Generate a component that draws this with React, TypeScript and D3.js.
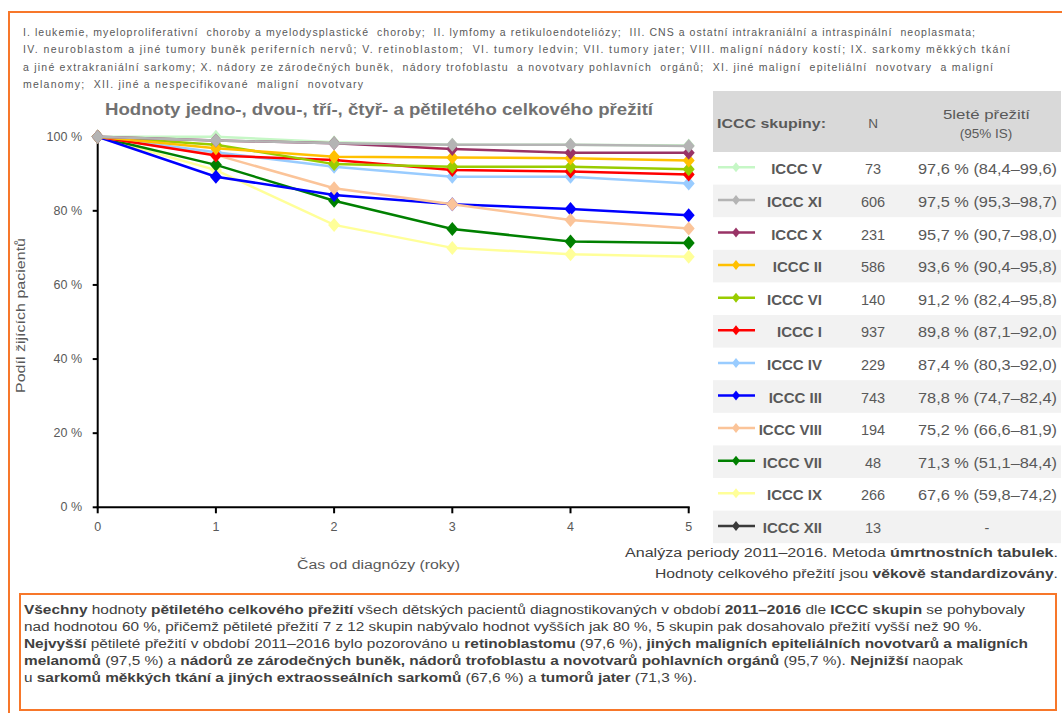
import React from "react";
import * as d3 from "d3";

const years = [0, 1, 2, 3, 4, 5];
const yTicks = [0, 20, 40, 60, 80, 100];

const groupLabels = ["ICCC V", "ICCC XI", "ICCC X", "ICCC II", "ICCC VI", "ICCC I", "ICCC IV", "ICCC III", "ICCC VIII", "ICCC VII", "ICCC IX", "ICCC XII"];
const groupN = ["73", "606", "231", "586", "140", "937", "229", "743", "194", "48", "266", "13"];
const groupSurv = ["97,6 % (84,4–99,6)", "97,5 % (95,3–98,7)", "95,7 % (90,7–98,0)", "93,6 % (90,4–95,8)", "91,2 % (82,4–95,8)", "89,8 % (87,1–92,0)", "87,4 % (80,3–92,0)", "78,8 % (74,7–82,4)", "75,2 % (66,6–81,9)", "71,3 % (51,1–84,4)", "67,6 % (59,8–74,2)", "-"];
const groupColors = ["#c6f7c6", "#b4b4b4", "#993366", "#ffc000", "#99cc00", "#ff0000", "#99ccff", "#0000ff", "#fbc499", "#008000", "#ffff99", "#3a3a3a"];

// survival (%) by year 0..5
const survI = [100, 94.9, 93.7, 91.0, 90.6, 89.8];
const survII = [100, 96.9, 94.6, 94.4, 94.2, 93.6];
const survIII = [100, 89.2, 84.3, 81.8, 80.5, 78.8];
const survIV = [100, 95.8, 91.9, 89.2, 89.2, 87.4];
const survV = [100, 100, 98.5, 97.8, 97.8, 97.6];
const survVI = [100, 97.8, 92.6, 91.9, 91.9, 91.2];
const survVII = [100, 92.4, 82.7, 75.1, 71.7, 71.3];
const survVIII = [100, 95.1, 86.1, 81.8, 77.5, 75.2];
const survIX = [100, 91.0, 76.2, 70.0, 68.3, 67.6];
const survX = [100, 99.0, 98.2, 96.7, 95.7, 95.7];
const survXI = [100, 99.0, 98.2, 97.8, 97.8, 97.5];

// drawing order (last on top)
const drawOrder: [string, number[]][] = [
  ["ICCC IX", survIX],
  ["ICCC VII", survVII],
  ["ICCC III", survIII],
  ["ICCC VIII", survVIII],
  ["ICCC IV", survIV],
  ["ICCC I", survI],
  ["ICCC VI", survVI],
  ["ICCC II", survII],
  ["ICCC V", survV],
  ["ICCC X", survX],
  ["ICCC XI", survXI],
];

const topLines = [
  "I. leukemie, myeloproliferativní  choroby a myelodysplastické  choroby;  II. lymfomy a retikuloendoteliózy;  III. CNS a ostatní intrakraniální a intraspinální  neoplasmata;",
  "IV. neuroblastom a jiné tumory buněk periferních nervů; V. retinoblastom;  VI. tumory ledvin; VII. tumory jater; VIII. maligní nádory kostí; IX. sarkomy měkkých tkání",
  "a jiné extrakraniální sarkomy; X. nádory ze zárodečných buněk,  nádory trofoblastu  a novotvary pohlavních  orgánů;  XI. jiné maligní  epiteliální  novotvary  a maligní",
  "melanomy;  XII. jiné a nespecifikované  maligní  novotvary",
];
const topLineEnds = [975, 1010, 993, 363];

// bottom text: segments [text, bold]
const bottomLines: [string, boolean][][] = [
  [["Všechny", true], [" hodnoty ", false], ["pětiletého celkového přežití", true], [" všech dětských pacientů diagnostikovaných v období ", false], ["2011–2016", true], [" dle ", false], ["ICCC skupin", true], [" se pohybovaly", false]],
  [["nad hodnotou 60 %, přičemž pětileté přežití 7 z 12 skupin nabývalo hodnot vyšších jak 80 %, 5 skupin pak dosahovalo přežití vyšší než 90 %.", false]],
  [["Nejvyšší", true], [" pětileté přežití v období 2011–2016 bylo pozorováno u ", false], ["retinoblastomu", true], [" (97,6 %), ", false], ["jiných maligních epiteliálních novotvarů a maligních", true]],
  [["melanomů", true], [" (97,5 %) a ", false], ["nádorů ze zárodečných buněk, nádorů trofoblastu a novotvarů pohlavních orgánů", true], [" (95,7 %). ", false], ["Nejnižší", true], [" naopak", false]],
  [["u ", false], ["sarkomů měkkých tkání a jiných extraosseálních sarkomů", true], [" (67,6 %) a ", false], ["tumorů jater", true], [" (71,3 %).", false]],
];
const bottomLineEnds = [1025, 982, 1028, 963, 697];

const FONT = "'Liberation Sans', Arial, sans-serif";
const TXT = "#595959";
const ORANGE = "#f7772a";

const diamond = (cx: number, cy: number, w = 6, h = 7) =>
  `M${cx},${cy - h}L${cx + w},${cy}L${cx},${cy + h}L${cx - w},${cy}Z`;

export default function App() {
  const x = d3.scaleLinear().domain([0, 5]).range([97.7, 688.7]);
  const y = d3.scaleLinear().domain([0, 100]).range([507.3, 136.7]);
  const line = d3
    .line<number>()
    .x((_, i) => x(years[i]))
    .y((d) => y(d));
  const colorOf = (name: string) => groupColors[groupLabels.indexOf(name)];

  const rowTop = 152;
  const rowH = 32.6;

  return (
    <svg
      width={1062}
      height={713}
      style={{ position: "absolute", left: 0, top: 0, background: "#fff" }}
      fontFamily={FONT}
    >
      <rect x={0} y={0} width={1062} height={713} fill="#fff" />
      {/* outer orange frame */}
      <path d="M9,713 L9,12 L1062,12" fill="none" stroke={ORANGE} strokeWidth={2} />
      {/* top description */}
      {topLines.map((t, i) => (
        <text
          key={i}
          x={23}
          y={36 + i * 17.3}
          fontSize={10.5}
          fill={TXT}
          textLength={topLineEnds[i] - 23}
          lengthAdjust="spacing"
          style={{ whiteSpace: "pre" }}
        >
          {t}
        </text>
      ))}

      {/* title */}
      <text x={105} y={115} fontSize={16} fill={TXT} fontWeight="bold" opacity={0.85} textLength={548} lengthAdjust="spacingAndGlyphs">
        Hodnoty jedno-, dvou-, tří-, čtyř- a pětiletého celkového přežití
      </text>

      {/* axes */}
      <line x1={x(0)} x2={x(0)} y1={y(100) - 1} y2={y(0) + 1} stroke="#000" strokeWidth={2} />
      <line x1={x(0) - 1} x2={x(5) + 1} y1={y(0)} y2={y(0)} stroke="#000" strokeWidth={2} />
      {yTicks.map((t) => (
        <g key={t}>
          <line x1={x(0) - 5} x2={x(0)} y1={y(t)} y2={y(t)} stroke="#000" strokeWidth={2} />
          <text x={82} y={y(t) + 4} textAnchor="end" fontSize={12.5} fill={TXT}>
            {`${t} %`}
          </text>
        </g>
      ))}
      {years.map((t) => (
        <g key={t}>
          <line x1={x(t)} x2={x(t)} y1={y(0)} y2={y(0) + 6} stroke="#000" strokeWidth={2} />
          <text x={x(t)} y={531} textAnchor="middle" fontSize={12.5} fill={TXT}>
            {t}
          </text>
        </g>
      ))}
      <text x={297} y={569} fontSize={12.5} fill={TXT} textLength={163} lengthAdjust="spacingAndGlyphs">
        Čas od diagnózy (roky)
      </text>
      <text
        transform={`translate(25,393) rotate(-90)`}
        fontSize={12.5}
        fill={TXT}
        textLength={155}
        lengthAdjust="spacingAndGlyphs"
      >
        Podíl žijících pacientů
      </text>

      {/* series */}
      {drawOrder.map(([name, vals]) => (
        <g key={name}>
          <path d={line(vals) || ""} fill="none" stroke={colorOf(name)} strokeWidth={2.5} />
          {vals.map((v, i) => (
            <path key={i} d={diamond(x(years[i]), y(v))} fill={colorOf(name)} />
          ))}
        </g>
      ))}

      {/* legend table */}
      <rect x={713} y={91} width={348} height={61} fill="#d9d9d9" />
      <text x={717} y={128} fontSize={13} fontWeight="bold" fill={TXT} textLength={109} lengthAdjust="spacingAndGlyphs">
        ICCC skupiny:
      </text>
      <text x={873} y={128} textAnchor="middle" fontSize={13.5} fill={TXT}>
        N
      </text>
      <text x={943} y={119} fontSize={13} fill={TXT} textLength={87} lengthAdjust="spacingAndGlyphs">
        5leté přežití
      </text>
      <text x={986} y={138} textAnchor="middle" fontSize={13.5} fill={TXT}>
        (95% IS)
      </text>
      {groupLabels.map((g, i) => {
        const top = rowTop + i * rowH;
        const cy = top + rowH / 2 + 1;
        return (
          <g key={g}>
            {i % 2 === 1 && <rect x={713} y={top} width={348} height={rowH} fill="#f2f2f2" />}
            <line x1={718} x2={755} y1={cy - 2} y2={cy - 2} stroke={groupColors[i]} strokeWidth={2.5} />
            <path d={diamond(736, cy - 2, 4, 5)} fill={groupColors[i]} />
            <text x={822} y={cy + 5} textAnchor="end" fontSize={15} fontWeight="bold" fill={TXT}>
              {g}
            </text>
            <text x={873} y={cy + 5} textAnchor="middle" fontSize={14.5} fill={TXT}>
              {groupN[i]}
            </text>
            {groupSurv[i] === "-" ? (
              <text x={987} y={cy + 5} textAnchor="middle" fontSize={14.5} fill={TXT}>
                -
              </text>
            ) : (
              <text x={918} y={cy + 5} fontSize={14.5} fill={TXT} textLength={139} lengthAdjust="spacingAndGlyphs">
                {groupSurv[i]}
              </text>
            )}
          </g>
        );
      })}

      {/* notes */}
      <text x={625} y={557} fontSize={12.5} fill="#404040" textLength={433} lengthAdjust="spacingAndGlyphs">
        <tspan>Analýza periody 2011–2016. Metoda </tspan>
        <tspan fontWeight="bold">úmrtnostních tabulek</tspan>
        <tspan>.</tspan>
      </text>
      <text x={655} y={578} fontSize={12.5} fill="#404040" textLength={403} lengthAdjust="spacingAndGlyphs">
        <tspan>Hodnoty celkového přežití jsou </tspan>
        <tspan fontWeight="bold">věkově standardizovány</tspan>
        <tspan>.</tspan>
      </text>

      {/* bottom box */}
      <rect x={20} y={594} width={1036} height={116} fill="none" stroke={ORANGE} strokeWidth={2} />
      {bottomLines.map((segs, i) => (
        <text
          key={i}
          x={24}
          y={614 + i * 17}
          fontSize={12.5}
          fill="#404040"
          style={{ whiteSpace: "pre" }}
          textLength={bottomLineEnds[i] - 24}
          lengthAdjust="spacingAndGlyphs"
        >
          {segs.map(([t, b], j) => (
            <tspan key={j} fontWeight={b ? "bold" : "normal"}>
              {t}
            </tspan>
          ))}
        </text>
      ))}
    </svg>
  );
}
